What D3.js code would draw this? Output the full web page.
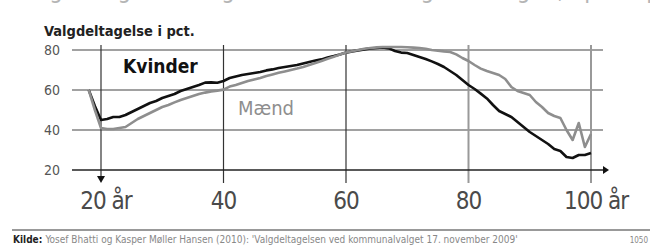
<!DOCTYPE html>
<html>
<head>
<meta charset="utf-8">
<script src="https://cdn.jsdelivr.net/npm/d3@7"></script>
<style>
  body { margin: 0; background: #fff; }
  svg { display: block; }
  text { font-family: 'DejaVu Sans Condensed', 'Liberation Sans Narrow', 'Roboto', sans-serif; }
</style>
</head>
<body>
<div id="chart"></div>
<script>
const ages = d3.range(18, 101);

const kvinder = [
  60, 52, 45, 45.5, 46.5, 46.5, 47.5, 49, 50.5, 52,
  53.5, 54.5, 56, 57, 58, 59.5, 60.5, 61.5, 62.5, 63.7,
  63.8, 63.6, 64.5, 66, 66.8, 67.5, 68, 68.5, 69, 69.8,
  70.3, 71, 71.5, 72, 72.5, 73.3, 74, 74.7, 75.3, 76.3,
  77, 77.8, 78.7, 79.3, 79.8, 80.3, 80.8, 81, 81.3, 80.8,
  79.5, 78.7, 78.5, 77.5, 76.5, 75.5, 74.3, 73, 71.5, 69.5,
  67.5, 65, 62.5, 60.5, 58.2, 55.8, 52.5, 49.5, 48, 46.5,
  44, 41.5, 39, 37, 35, 33, 30.5, 29.5, 26.5, 26,
  27.5, 27.5, 28.5
];

const maend = [
  60, 50, 41, 40.5, 40.5, 41, 41.5, 43.5, 45.5, 47,
  48.5, 50, 51.5, 52.5, 53.8, 55, 56, 57, 58, 58.7,
  59.3, 59.7, 60.2, 61.7, 62.5, 63.5, 64.5, 65.3, 66, 67,
  67.8, 68.6, 69.3, 70, 70.7, 71.5, 72.5, 73.5, 74.5, 75.6,
  76.6, 77.7, 78.7, 79.4, 80, 80.6, 81, 81.3, 81.5, 81.5,
  81.5, 81.5, 81.4, 81.2, 81, 80.6, 80, 79.7, 79.3, 79,
  77.8, 76, 74.5, 72.5, 70.7, 69.5, 68.5, 67.5, 65.5, 61.5,
  59.5, 58.5, 57.5, 54, 51.5, 48.5, 47, 46, 40, 35,
  43.5, 31.5, 38
];

const yTicks = [20, 40, 60, 80];
const xTicks = [20, 40, 60, 80, 100];
const xTickLabels = ['20 år', '40', '60', '80', '100 år'];

const width = 650;
const height = 247;

let svg = d3.select('#chart').append('svg')
  .attr('width', width)
  .attr('height', height);

let xScale = d3.scaleLinear().domain([20, 100]).range([101, 591]);
let yScale = d3.scaleLinear().domain([20, 80]).range([170, 50]);

let gridLeft = 72;
let gridRight = 603;

// headline, cut off by the top edge like in the print
svg.append('text')
  .attr('x', 17)
  .attr('y', -2)
  .attr('fill', '#b5b5b5')
  .attr('font-size', 24)
  .text('Valgdeltagelsen stiger med alderen og falder igen, opdelt på køn');

svg.append('text')
  .attr('x', 44)
  .attr('y', 36)
  .attr('font-size', 14.5)
  .attr('font-weight', 'bold')
  .attr('fill', '#222')
  .text('Valgdeltagelse i pct.');

// horizontal grid
svg.append('g')
  .selectAll('line')
  .data(yTicks.filter((d) => d != 20)).enter()
    .append('line')
      .attr('x1', gridLeft)
      .attr('x2', gridRight)
      .attr('y1', (d) => yScale(d))
      .attr('y2', (d) => yScale(d))
      .attr('stroke', '#444')
      .attr('stroke-width', 1.2);

svg.append('g')
  .selectAll('text')
  .data(yTicks).enter()
    .append('text')
      .attr('x', 60)
      .attr('y', (d) => yScale(d) + 5)
      .attr('text-anchor', 'end')
      .attr('font-size', 14)
      .attr('fill', '#555')
      .text((d) => d);

// vertical grid
svg.append('g')
  .selectAll('line')
  .data(xTicks).enter()
    .append('line')
      .attr('x1', (d) => xScale(d))
      .attr('x2', (d) => xScale(d))
      .attr('y1', 45)
      .attr('y2', (d) => d == 20 ? 177 : 183)
      .attr('stroke', (d) => d >= 80 ? '#999' : '#333')
      .attr('stroke-width', (d) => d >= 80 ? 2 : 1.2);

// arrow on the 20 line
svg.append('path')
  .attr('d', d3.line()([[xScale(20) - 4, 176], [xScale(20) + 4, 176], [xScale(20), 183]]))
  .attr('fill', '#111');

// x axis with arrow
svg.append('line')
  .attr('x1', gridLeft)
  .attr('x2', gridRight)
  .attr('y1', yScale(20))
  .attr('y2', yScale(20))
  .attr('stroke', '#222')
  .attr('stroke-width', 1.4);

svg.append('path')
  .attr('d', d3.line()([[gridRight, yScale(20) - 4], [gridRight + 6, yScale(20)], [gridRight, yScale(20) + 4]]))
  .attr('fill', '#111');

svg.append('g')
  .selectAll('text')
  .data(xTicks).enter()
    .append('text')
      .attr('x', (d) => xScale(d) + (d == 20 || d == 100 ? 5 : 0))
      .attr('y', 209)
      .attr('text-anchor', 'middle')
      .attr('font-size', 24)
      .attr('letter-spacing', -1)
      .attr('fill', '#4a4a4a')
      .text((d, i) => xTickLabels[i]);

// lines
let line = (values) => d3.line()
  .x((d, i) => xScale(ages[i]))
  .y((d) => yScale(d))(values);

svg.append('path')
  .attr('d', line(kvinder))
  .attr('fill', 'none')
  .attr('stroke', '#111')
  .attr('stroke-width', 2.6)
  .attr('stroke-linejoin', 'round');

svg.append('path')
  .attr('d', line(maend))
  .attr('fill', 'none')
  .attr('stroke', '#8e8e8e')
  .attr('stroke-width', 2.6)
  .attr('stroke-linejoin', 'round');

svg.append('text')
  .attr('x', 123)
  .attr('y', 73)
  .attr('font-size', 19)
  .attr('font-weight', 'bold')
  .attr('fill', '#111')
  .text('Kvinder');

svg.append('text')
  .attr('x', 238)
  .attr('y', 115)
  .attr('font-size', 20)
  .attr('fill', '#8e8e8e')
  .text('Mænd');

// footer
svg.append('line')
  .attr('x1', 12)
  .attr('x2', width)
  .attr('y1', 230)
  .attr('y2', 230)
  .attr('stroke', '#999')
  .attr('stroke-width', 2);

let source = svg.append('text')
  .attr('x', 13)
  .attr('y', 243)
  .attr('font-size', 10)
  .attr('fill', '#888');

source.append('tspan')
  .attr('font-weight', 'bold')
  .attr('fill', '#222')
  .text('Kilde: ');

source.append('tspan')
  .text('Yosef Bhatti og Kasper Møller Hansen (2010): \'Valgdeltagelsen ved kommunalvalget 17. november 2009\'');

svg.append('text')
  .attr('x', 648)
  .attr('y', 243)
  .attr('text-anchor', 'end')
  .attr('font-size', 8)
  .attr('fill', '#888')
  .text('1050');
</script>
</body>
</html>
